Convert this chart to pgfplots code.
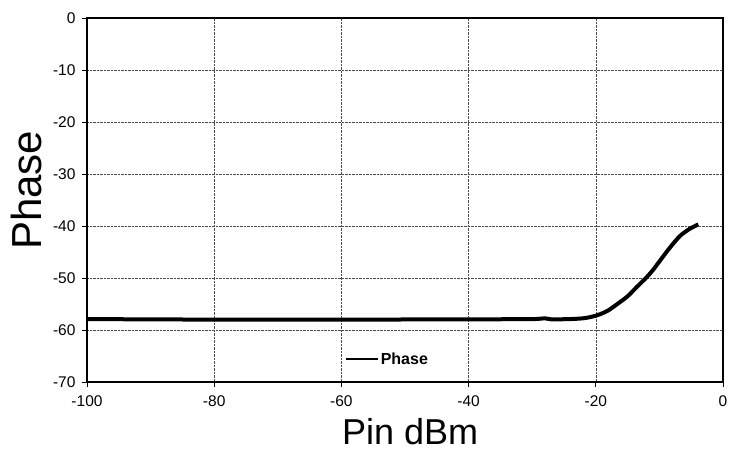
\documentclass[border=0pt]{standalone}
\usepackage{pgfplots}
\pgfplotsset{compat=1.18}
\usepackage{fontspec}
\setmainfont{Liberation Sans}
\begin{document}
\begin{tikzpicture}[x=1pt,y=1pt]
\path[use as bounding box] (-87,-69) rectangle (644,382);
\begin{axis}[
  at={(0,0)}, anchor=south west,
  scale only axis, width=636pt, height=364pt,
  xmin=-100, xmax=0, ymin=-70, ymax=0,
  xtick={-100,-80,...,0}, ytick={-70,-60,...,0},
  grid=major,
  major grid style={black!70, densely dotted, line width=0.4pt},
  axis line style={black, line width=2pt},
  tick style={black, line width=0.8pt},
  tick align=outside, major tick length=5pt,
  xtick pos=bottom, ytick pos=left,
  /pgf/number format/assume math mode=true,
  ticklabel style={font=\fontsize{15.5}{17}\selectfont},
  xticklabel style={yshift=-5pt},
  yticklabel style={xshift=-3pt},
  legend style={draw=none, fill=none, at={(0.405,0.038)}, anchor=south west,
    font=\bfseries\fontsize{16}{18}\selectfont, inner sep=0pt,
    /tikz/every even column/.append style={column sep=0pt}},
  legend image code/.code={\draw[black, line width=2pt] (0pt,0pt) -- (32pt,0pt);},
  legend cell align=left,
  clip=false,
]
\addplot[black, line width=4pt, smooth, tension=0.4] coordinates {
(-100,-57.9) (-80,-58.0) (-60,-58.0) (-40,-57.95) (-30,-57.9) (-28,-57.75) (-27,-57.95) (-24,-57.9)
(-22,-57.75) (-21,-57.55) (-20,-57.25) (-19,-56.8) (-18,-56.2) (-17.25,-55.56) (-15.14,-53.66) (-13.57,-51.75) (-12.0,-49.85)
(-10.96,-48.38) (-9.64,-46.23) (-8.33,-44.13) (-6.76,-41.9) (-5.19,-40.51) (-3.88,-39.7)
};
\addlegendentry{Phase}
\node[rotate=90, font=\fontsize{42}{44}\selectfont, anchor=center] at (axis description cs:-0.0959,0.527) {Phase};
\node[font=\fontsize{36}{38}\selectfont, anchor=base] at (axis description cs:0.508,-0.172) {Pin dBm};
\end{axis}
\end{tikzpicture}
\end{document}
